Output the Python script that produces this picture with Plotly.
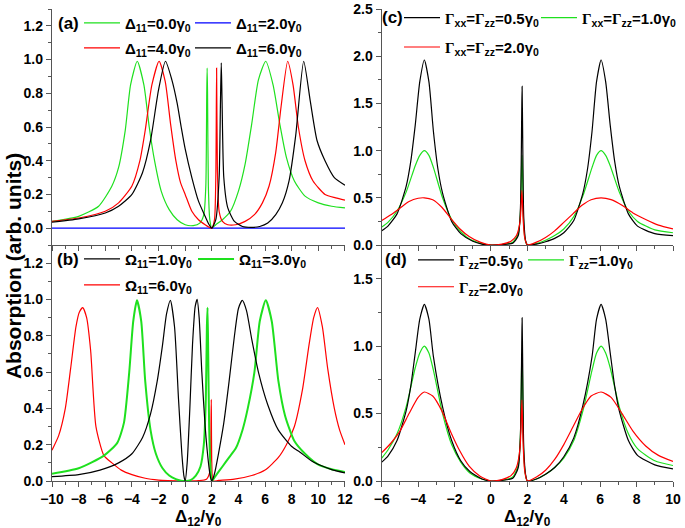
import plotly.graph_objects as go

# ---------------- data ----------------
# panel (a): Delta_11 series
a_g_x = [-10, -8, -6.5, -5.5, -5, -4.5, -4.1, -3.6, -3.1, -2.7, -2.3, -1.8, -1.2, -0.6, 0, 0.6, 1.1, 1.4, 1.55, 1.62, 1.65, 1.68, 1.74, 1.85, 2.0, 2.3, 2.8, 3.4, 4.0, 4.5, 5.0, 5.5, 6.05, 6.6, 7.1, 7.6, 8.2, 9, 10, 11, 12]
a_g_y = [0.04, 0.07, 0.13, 0.25, 0.36, 0.58, 0.85, 0.99, 0.85, 0.6, 0.4, 0.22, 0.11, 0.05, 0.02, 0.015, 0.03, 0.08, 0.25, 0.8, 0.95, 0.8, 0.25, 0.05, 0.0, 0.02, 0.05, 0.1, 0.22, 0.38, 0.62, 0.88, 0.99, 0.85, 0.62, 0.42, 0.28, 0.19, 0.15, 0.13, 0.12]
a_b_x = [-10, 12]
a_b_y = [0, 0]
a_r_x = [-10, -8, -6, -5, -4, -3.4, -3.0, -2.5, -1.96, -1.5, -1.1, -0.7, -0.35, 0, 0.5, 1.0, 1.5, 1.8, 2.0, 2.2, 2.3, 2.36, 2.42, 2.55, 2.8, 3.2, 3.8, 4.5, 5.2, 5.8, 6.3, 6.8, 7.2, 7.7, 8.1, 8.5, 9, 9.6, 10.5, 11.3, 12]
a_r_y = [0.04, 0.06, 0.1, 0.15, 0.25, 0.4, 0.58, 0.85, 0.99, 0.87, 0.62, 0.4, 0.27, 0.2, 0.1, 0.05, 0.02, 0.005, 0.0, 0.05, 0.3, 0.95, 0.35, 0.1, 0.04, 0.02, 0.02, 0.04, 0.08, 0.15, 0.25, 0.45, 0.72, 0.99, 0.85, 0.6, 0.4, 0.28, 0.2, 0.18, 0.166]
a_k_x = [-10, -8, -6, -5, -4, -3.2, -2.6, -2.0, -1.48, -1.0, -0.6, -0.3, 0, 0.5, 1.0, 1.5, 1.8, 2.0, 2.3, 2.55, 2.65, 2.71, 2.77, 2.9, 3.2, 3.7, 4.3, 5.0, 5.6, 6.2, 6.8, 7.3, 7.8, 8.3, 8.9, 9.4, 9.9, 10.5, 11.2, 12]
a_k_y = [0.035, 0.055, 0.09, 0.13, 0.2, 0.33, 0.52, 0.82, 0.99, 0.88, 0.74, 0.6, 0.47, 0.3, 0.16, 0.07, 0.02, 0.0, 0.05, 0.3, 0.75, 0.98, 0.75, 0.3, 0.12, 0.04, 0.01, 0.005, 0.01, 0.03, 0.08, 0.15, 0.28, 0.55, 0.99, 0.75, 0.52, 0.4, 0.3, 0.255]

# panel (b): Omega_11 series
b_k_x = [-10, -8, -6.4, -5, -4, -3.2, -2.6, -2.1, -1.7, -1.4, -1.11, -0.8, -0.5, -0.25, -0.1, 0, 0.15, 0.35, 0.55, 0.75, 0.9, 1.05, 1.25, 1.5, 1.75, 1.9, 2.0, 2.2, 2.5, 2.9, 3.3, 3.7, 4.0, 4.29, 4.6, 5.0, 5.5, 6.2, 7, 8, 8.6, 9.5, 10.2, 11, 12]
b_k_y = [0.024, 0.035, 0.06, 0.1, 0.15, 0.24, 0.37, 0.55, 0.75, 0.92, 0.995, 0.85, 0.45, 0.15, 0.03, 0.0, 0.1, 0.4, 0.75, 0.96, 1.0, 0.9, 0.6, 0.3, 0.1, 0.02, 0.0, 0.04, 0.15, 0.32, 0.55, 0.8, 0.95, 0.995, 0.94, 0.78, 0.6, 0.42, 0.28, 0.19, 0.16, 0.11, 0.085, 0.063, 0.045]
b_g_x = [-10, -8, -6.1, -5.1, -4.6, -4.2, -3.9, -3.62, -3.3, -3.0, -2.6, -2.2, -1.7, -1.2, -0.7, -0.3, 0, 0.4, 0.8, 1.15, 1.4, 1.55, 1.63, 1.68, 1.73, 1.8, 1.9, 2.0, 2.3, 2.8, 3.3, 3.8, 4.3, 4.7, 5.2, 5.6, 6.05, 6.5, 7.0, 7.5, 8.2, 9, 10, 11, 12]
b_g_y = [0.04, 0.07, 0.14, 0.21, 0.32, 0.6, 0.88, 0.995, 0.88, 0.55, 0.28, 0.15, 0.07, 0.03, 0.01, 0.002, 0.0, 0.005, 0.03, 0.08, 0.2, 0.45, 0.85, 0.955, 0.7, 0.3, 0.08, 0.0, 0.03, 0.08, 0.13, 0.18, 0.28, 0.4, 0.6, 0.88, 0.995, 0.88, 0.55, 0.36, 0.22, 0.15, 0.09, 0.065, 0.05]
b_r_x = [-10, -9.5, -9, -8.6, -8.2, -7.95, -7.69, -7.4, -7.1, -6.7, -6.1, -5.5, -4.8, -4, -3, -2, -1.3, 0, 1.0, 1.6, 1.85, 1.92, 1.96, 2.0, 2.1, 2.5, 3.7, 5, 6, 7, 7.6, 8.2, 8.8, 9.3, 9.65, 9.94, 10.3, 10.7, 11.2, 11.6, 12]
b_r_y = [0.17, 0.25, 0.4, 0.62, 0.85, 0.93, 0.955, 0.9, 0.72, 0.3, 0.14, 0.1, 0.06, 0.035, 0.015, 0.005, 0.002, 0.0, 0.002, 0.01, 0.05, 0.2, 0.45, 0.1, 0.0, 0.003, 0.01, 0.03, 0.06, 0.13, 0.2, 0.3, 0.5, 0.75, 0.9, 0.955, 0.85, 0.62, 0.4, 0.28, 0.2]

# panel (c): Gamma_xx = Gamma_zz series
c_k_x = [-6, -5.66, -5.16, -4.66, -4.41, -4.16, -3.91, -3.66, -3.41, -3.16, -2.91, -2.66, -2.16, -1.66, -1.0, -0.5, 0, 0.6, 1.2, 1.5, 1.62, 1.69, 1.71, 1.74, 1.8, 1.9, 2.0, 2.5, 3.0, 3.5, 4.0, 4.55, 5.05, 5.3, 5.55, 5.8, 6.05, 6.3, 6.55, 6.8, 7.05, 7.55, 8.05, 9, 10]
c_k_y = [0.15, 0.2, 0.33, 0.62, 0.88, 1.27, 1.73, 1.96, 1.73, 1.2, 0.8, 0.55, 0.25, 0.12, 0.04, 0.01, 0.0, 0.005, 0.02, 0.1, 0.4, 1.4, 1.68, 1.2, 0.3, 0.05, 0.0, 0.01, 0.035, 0.07, 0.13, 0.26, 0.55, 0.8, 1.2, 1.73, 1.96, 1.73, 1.27, 0.88, 0.62, 0.33, 0.2, 0.12, 0.1]
c_g_x = [-6, -5.66, -5.16, -4.66, -4.16, -3.91, -3.66, -3.41, -3.16, -2.66, -2.16, -1.66, -1.16, -0.5, 0, 0.6, 1.2, 1.5, 1.62, 1.69, 1.71, 1.74, 1.8, 1.9, 2.0, 2.5, 3.0, 3.5, 4.0, 4.55, 5.05, 5.55, 5.8, 6.05, 6.3, 6.55, 7.05, 7.55, 8.05, 9, 10]
c_g_y = [0.19, 0.24, 0.36, 0.56, 0.84, 0.95, 1.0, 0.95, 0.82, 0.5, 0.27, 0.14, 0.06, 0.015, 0.0, 0.005, 0.03, 0.12, 0.35, 0.9, 0.95, 0.7, 0.2, 0.04, 0.0, 0.015, 0.05, 0.1, 0.17, 0.3, 0.52, 0.82, 0.95, 1.0, 0.95, 0.84, 0.56, 0.36, 0.25, 0.16, 0.13]
c_r_x = [-6, -5.5, -5, -4.5, -4, -3.66, -3.2, -2.7, -2.2, -1.7, -1.2, -0.6, 0, 0.6, 1.1, 1.4, 1.6, 1.7, 1.76, 1.85, 2.0, 2.5, 3.0, 3.5, 4.0, 4.5, 5.0, 5.5, 6.05, 6.6, 7.2, 7.8, 8.5, 9.2, 10]
c_r_y = [0.26, 0.32, 0.39, 0.46, 0.495, 0.5, 0.48, 0.4, 0.28, 0.17, 0.09, 0.03, 0.0, 0.01, 0.04, 0.1, 0.25, 0.58, 0.3, 0.08, 0.0, 0.03, 0.08, 0.15, 0.24, 0.33, 0.42, 0.48, 0.5, 0.48, 0.42, 0.34, 0.27, 0.21, 0.17]

# panel (d): Gamma_zz series
d_k_x = [-6, -5.66, -5.16, -4.66, -4.41, -4.16, -3.91, -3.66, -3.41, -3.16, -2.66, -2.16, -1.66, -1.16, -0.5, 0, 0.6, 1.2, 1.5, 1.62, 1.69, 1.71, 1.74, 1.8, 1.9, 2.0, 2.5, 3.0, 3.5, 4.0, 4.55, 5.05, 5.55, 5.8, 6.05, 6.3, 6.55, 6.8, 7.05, 7.55, 8.05, 9, 10]
d_k_y = [0.14, 0.185, 0.3, 0.52, 0.7, 0.95, 1.2, 1.31, 1.2, 0.92, 0.55, 0.3, 0.15, 0.07, 0.015, 0.0, 0.005, 0.02, 0.1, 0.35, 1.0, 1.21, 0.9, 0.25, 0.05, 0.0, 0.015, 0.05, 0.1, 0.18, 0.32, 0.56, 0.92, 1.2, 1.31, 1.2, 0.95, 0.7, 0.52, 0.3, 0.19, 0.12, 0.09]
d_g_x = [-6, -5.66, -5.16, -4.66, -4.16, -3.91, -3.66, -3.41, -3.16, -2.66, -2.16, -1.66, -1.16, -0.5, 0, 0.6, 1.2, 1.5, 1.62, 1.69, 1.71, 1.74, 1.8, 1.9, 2.0, 2.5, 3.0, 3.5, 4.0, 4.55, 5.05, 5.55, 5.8, 6.05, 6.3, 6.55, 7.05, 7.55, 8.05, 9, 10]
d_g_y = [0.17, 0.23, 0.35, 0.55, 0.84, 0.95, 1.0, 0.95, 0.82, 0.5, 0.27, 0.14, 0.06, 0.015, 0.0, 0.005, 0.03, 0.12, 0.35, 0.9, 0.95, 0.7, 0.2, 0.04, 0.0, 0.015, 0.05, 0.1, 0.17, 0.3, 0.52, 0.82, 0.95, 1.0, 0.95, 0.84, 0.55, 0.35, 0.24, 0.15, 0.115]
d_r_x = [-6, -5.5, -5, -4.5, -4, -3.66, -3.2, -2.7, -2.2, -1.7, -1.2, -0.6, 0, 0.6, 1.1, 1.4, 1.6, 1.7, 1.76, 1.85, 2.0, 2.5, 3.0, 3.5, 4.0, 4.5, 5.0, 5.5, 6.05, 6.6, 7.2, 7.8, 8.5, 9.2, 10]
d_r_y = [0.21, 0.28, 0.37, 0.5, 0.62, 0.66, 0.63, 0.52, 0.36, 0.22, 0.11, 0.035, 0.0, 0.01, 0.04, 0.1, 0.25, 0.6, 0.3, 0.08, 0.0, 0.03, 0.08, 0.16, 0.27, 0.4, 0.53, 0.63, 0.66, 0.62, 0.5, 0.37, 0.26, 0.19, 0.145]

# texts
a_names = ["Δ<sub>11</sub>=0.0γ<sub>0</sub>", "Δ<sub>11</sub>=2.0γ<sub>0</sub>",
           "Δ<sub>11</sub>=4.0γ<sub>0</sub>", "Δ<sub>11</sub>=6.0γ<sub>0</sub>"]
b_names = ["Ω<sub>11</sub>=1.0γ<sub>0</sub>", "Ω<sub>11</sub>=3.0γ<sub>0</sub>",
           "Ω<sub>11</sub>=6.0γ<sub>0</sub>"]
G = '<span style="font-family:Liberation Serif">Γ</span>'
c_names = [G + "<sub>xx</sub>=" + G + "<sub>zz</sub>=0.5γ<sub>0</sub>",
           G + "<sub>xx</sub>=" + G + "<sub>zz</sub>=1.0γ<sub>0</sub>",
           G + "<sub>xx</sub>=" + G + "<sub>zz</sub>=2.0γ<sub>0</sub>"]
d_names = [G + "<sub>zz</sub>=0.5γ<sub>0</sub>", G + "<sub>zz</sub>=1.0γ<sub>0</sub>",
           G + "<sub>zz</sub>=2.0γ<sub>0</sub>"]
panel_labels = ["(a)", "(b)", "(c)", "(d)"]
x_title = "Δ<sub>12</sub>/γ<sub>0</sub>"
y_title = "Absorption (arb. units)"

GREEN = "#1ee01e"
RED = "#ff0000"
BLUE = "#0000ff"
BLACK = "#000000"
FRAME = "#555555"
FONT = "Liberation Sans, Arial, sans-serif"

fig = go.Figure()


def add(x, y, color, name, legend, xa, ya, width=1.2):
    fig.add_trace(go.Scatter(
        x=x, y=y, mode="lines", name=name, legend=legend,
        line=dict(color=color, width=width, shape="spline", smoothing=0.6),
        xaxis=xa, yaxis=ya, hoverinfo="skip"))


# panel (a)
add(a_g_x, a_g_y, GREEN, a_names[0], "legend", "x", "y")
add(a_b_x, a_b_y, BLUE, a_names[1], "legend2", "x", "y")
add(a_r_x, a_r_y, RED, a_names[2], "legend3", "x", "y")
add(a_k_x, a_k_y, BLACK, a_names[3], "legend4", "x", "y")
# panel (b)
add(b_r_x, b_r_y, RED, b_names[2], "legend7", "x2", "y2")
add(b_g_x, b_g_y, GREEN, b_names[1], "legend6", "x2", "y2", width=2)
add(b_k_x, b_k_y, BLACK, b_names[0], "legend5", "x2", "y2")
# panel (c)
add(c_g_x, c_g_y, GREEN, c_names[1], "legend9", "x3", "y3")
add(c_k_x, c_k_y, BLACK, c_names[0], "legend8", "x3", "y3")
add(c_r_x, c_r_y, RED, c_names[2], "legend10", "x3", "y3")
# panel (d)
add(d_g_x, d_g_y, GREEN, d_names[1], "legend12", "x4", "y4")
add(d_k_x, d_k_y, BLACK, d_names[0], "legend11", "x4", "y4")
add(d_r_x, d_r_y, RED, d_names[2], "legend13", "x4", "y4")

tickfont = dict(family=FONT, size=14, color="black", weight="bold")

left_dom = [0.0, 0.4718]
right_dom = [0.531, 1.0]
top_dom = [0.5, 1.0]
bot_dom = [0.0, 0.5]


def xax(dom, rng, anchor, labels):
    return dict(domain=dom, range=rng, anchor=anchor, showline=True, linecolor=FRAME,
                linewidth=1.3, ticks="outside", ticklen=5, tickcolor=FRAME, tickwidth=1.2,
                dtick=2, tick0=0, showgrid=False, zeroline=False, tickfont=tickfont,
                showticklabels=labels, automargin=False,
                minor=dict(ticks="outside", ticklen=3, dtick=1, tickcolor=FRAME, showgrid=False))


def yax(dom, rng, anchor, dt, mdt):
    return dict(domain=dom, range=rng, anchor=anchor, showline=True, linecolor=FRAME,
                linewidth=1.3, ticks="outside", ticklen=5, tickcolor=FRAME, tickwidth=1.2,
                dtick=dt, tick0=0, tickformat=".1f", showgrid=False, zeroline=False,
                tickfont=tickfont, automargin=False,
                minor=dict(ticks="outside", ticklen=3, dtick=mdt, tickcolor=FRAME, showgrid=False))


def xmir(over, rng, anchor):
    return dict(overlaying=over, side="top", range=rng, anchor=anchor, showline=True,
                linecolor=FRAME, linewidth=1.3, ticks="inside", ticklen=5, tickcolor=FRAME,
                dtick=2, tick0=0, showticklabels=False, showgrid=False, zeroline=False,
                minor=dict(ticks="inside", ticklen=3, dtick=1, tickcolor=FRAME, showgrid=False))


def ymir(over, rng, anchor, dt, mdt):
    return dict(overlaying=over, side="right", range=rng, anchor=anchor, showline=True,
                linecolor=FRAME, linewidth=1.3, ticks="inside", ticklen=5, tickcolor=FRAME,
                dtick=dt, tick0=0, showticklabels=False, showgrid=False, zeroline=False,
                minor=dict(ticks="inside", ticklen=3, dtick=mdt, tickcolor=FRAME, showgrid=False))


ra_x = [-10, 12]
ra_y = [-0.1, 1.3]
rb_y = [0, 1.3]
rc_x = [-6, 10]
rc_y = [0, 2.5]
rd_y = [0, 1.75]

legfont = dict(family=FONT, size=15, color="black", weight="bold")


def leg(x, y):
    return dict(x=x, y=y, xanchor="left", yanchor="middle", orientation="h",
                bgcolor="rgba(0,0,0,0)", font=legfont, itemwidth=36)


fig.update_layout(
    width=685, height=528,
    margin=dict(l=52, r=12, t=9, b=47, autoexpand=False),
    paper_bgcolor="white", plot_bgcolor="white",
    font=dict(family=FONT, color="black"),
    xaxis=xax(left_dom, ra_x, "y", False),
    yaxis=yax(top_dom, ra_y, "x", 0.2, 0.1),
    xaxis2=xax(left_dom, ra_x, "y2", True),
    yaxis2=yax(bot_dom, rb_y, "x2", 0.2, 0.1),
    xaxis3=xax(right_dom, rc_x, "y3", False),
    yaxis3=yax(top_dom, rc_y, "x3", 0.5, 0.25),
    xaxis4=xax(right_dom, rc_x, "y4", True),
    yaxis4=yax(bot_dom, rd_y, "x4", 0.5, 0.25),
    xaxis5=xmir("x", ra_x, "y"),
    yaxis5=ymir("y", ra_y, "x", 0.2, 0.1),
    xaxis6=xmir("x2", ra_x, "y2"),
    yaxis6=ymir("y2", rb_y, "x2", 0.2, 0.1),
    xaxis7=xmir("x3", rc_x, "y3"),
    yaxis7=ymir("y3", rc_y, "x3", 0.5, 0.25),
    xaxis8=xmir("x4", rc_x, "y4"),
    yaxis8=ymir("y4", rd_y, "x4", 0.5, 0.25),
    # panel (a) legend entries
    legend=leg(0.0435, 0.970),
    legend2=leg(0.2222, 0.970),
    legend3=leg(0.0435, 0.917),
    legend4=leg(0.2222, 0.917),
    # panel (b)
    legend5=leg(0.0435, 0.470),
    legend6=leg(0.2271, 0.470),
    legend7=leg(0.0435, 0.415),
    # panel (c)
    legend8=leg(0.5588, 0.981),
    legend9=leg(0.7794, 0.981),
    legend10=leg(0.5588, 0.919),
    # panel (d)
    legend11=leg(0.5813, 0.468),
    legend12=leg(0.7585, 0.468),
    legend13=leg(0.5813, 0.411),
    showlegend=True,
)

lab_pos = [(0.026, 0.970), (0.026, 0.470), (0.548, 0.981), (0.554, 0.470)]
for lab, (lx, ly) in zip(panel_labels, lab_pos):
    fig.add_annotation(text=lab, x=lx, y=ly, xref="paper", yref="paper", xanchor="center",
                       yanchor="middle", showarrow=False,
                       font=dict(family=FONT, size=17, color="black", weight="bold"))

fig.add_annotation(text=y_title, x=-0.063, y=0.455, xref="paper", yref="paper",
                   xanchor="center", yanchor="middle", textangle=-90, showarrow=False,
                   font=dict(family=FONT, size=21, color="black", weight="bold"))

for xc in (0.2359, 0.7655):
    fig.add_annotation(text=x_title, x=xc, y=-0.078, xref="paper", yref="paper",
                       xanchor="center", yanchor="middle", showarrow=False,
                       font=dict(family=FONT, size=17, color="black", weight="bold"))

fig.write_html("out.html", config={"displayModeBar": False},
               post_script="document.body.style.margin='0px';document.body.style.overflow='hidden';")
